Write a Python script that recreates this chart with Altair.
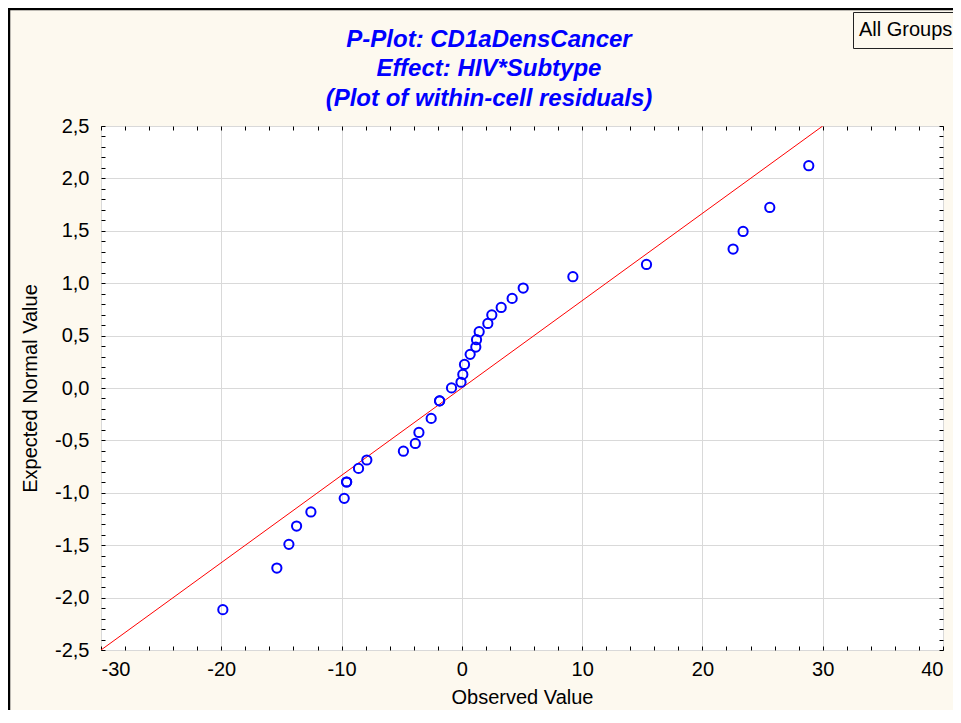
import altair as alt
import pandas as pd

# ---- data ----
observed = [-19.87, -15.38, -14.38, -13.74, -12.55, -9.78, -9.58, -9.58, -8.59, -7.90,
            -4.86, -3.87, -3.57, -2.55, -1.85, -1.85, -0.86, -0.07, 0.08, 0.22,
            0.69, 1.16, 1.22, 1.44, 2.16, 2.49, 3.27, 4.18, 5.10, 9.23,
            15.35, 22.55, 23.38, 25.60, 28.84]
expected = [-2.115, -1.718, -1.492, -1.317, -1.183, -1.053, -0.897, -0.897, -0.767, -0.687,
            -0.603, -0.529, -0.424, -0.290, -0.123, -0.123, 0.001, 0.055, 0.130, 0.225,
            0.321, 0.391, 0.461, 0.537, 0.616, 0.697, 0.769, 0.855, 0.954, 1.062,
            1.179, 1.326, 1.494, 1.723, 2.121]
line_x = [-30, 30]
line_y = [-2.5, 2.5]
x_ticks = [-30, -20, -10, 0, 10, 20, 30, 40]
y_ticks = [-2.5, -2.0, -1.5, -1.0, -0.5, 0.0, 0.5, 1.0, 1.5, 2.0, 2.5]
x_minor = list(range(-30, 41, 2))
y_minor = [round(-2.5 + 0.1 * i, 1) for i in range(51)]
title_lines = ["P-Plot: CD1aDensCancer", "Effect: HIV*Subtype", "(Plot of within-cell residuals)"]
group_name = "All Groups"
x_title = "Observed Value"
y_title = "Expected Normal Value"

FONT = "Arial, Liberation Sans, sans-serif"
BG = "#fdf9ef"

pts = pd.DataFrame({"obs": observed, "exp": expected, "group": group_name})
line = pd.DataFrame({"obs": line_x, "exp": line_y})

xs = alt.Scale(domain=[-30, 40], nice=False, zero=False)
ys = alt.Scale(domain=[-2.5, 2.5], nice=False, zero=False)

main_x_axis = alt.Axis(
    values=x_ticks, title=x_title, labelExpr="toString(datum.value)",
    grid=True, gridColor="#d9d9d9", ticks=False, tickSize=0, domain=False,
    labelFontSize=20, labelFont=FONT, labelColor="black", labelPadding=9,
    titleFontSize=20, titleFont=FONT, titleFontWeight="normal", titleColor="black",
    titlePadding=8,
)
main_y_axis = alt.Axis(
    values=y_ticks, title=y_title,
    labelExpr="(datum.value < 0 ? '-' : '') + replace(format(abs(datum.value), '.1f'), '.', ',')",
    grid=True, gridColor="#d9d9d9", ticks=False, tickSize=0, domain=False,
    labelFontSize=20, labelFont=FONT, labelColor="black", labelPadding=12,
    titleFontSize=20, titleFont=FONT, titleFontWeight="normal", titleColor="black",
    titlePadding=14,
)


def tick_axis(orient, vals):
    return alt.Axis(orient=orient, values=vals, labels=False, grid=False, domain=False,
                    ticks=True, tickSize=4, offset=-4, tickColor="black", tickWidth=1,
                    title=None)


frame = alt.Chart(pd.DataFrame({"a": [0]})).mark_rect(
    fillOpacity=0, stroke="black", strokeWidth=2.5
).encode(x=alt.value(-92), x2=alt.value(900), y=alt.value(-117), y2=alt.value(640))

redline = alt.Chart(line).mark_line(color="#ff0000", strokeWidth=1, clip=True).encode(
    x=alt.X("obs:Q", scale=xs, axis=None),
    y=alt.Y("exp:Q", scale=ys, axis=None),
)

points = alt.Chart(pts).mark_point(shape="circle", filled=False, size=85, strokeWidth=2, opacity=1).encode(
    x=alt.X("obs:Q", scale=xs, axis=main_x_axis),
    y=alt.Y("exp:Q", scale=ys, axis=main_y_axis),
    color=alt.Color("group:N", scale=alt.Scale(range=["#0000ff"]), legend=alt.Legend(
        title=None, orient="none", legendX=752, legendY=-114,
        strokeColor="#222222", fillColor=BG, padding=8, cornerRadius=0,
        labelFontSize=20, labelFont=FONT, labelColor="black",
        symbolSize=1, symbolOpacity=0, symbolStrokeWidth=0,
        labelOffset={"expr": "-22"},
    )),
)

minor_bl = alt.Chart(pts).mark_point(opacity=0).encode(
    x=alt.X("obs:Q", scale=xs, axis=tick_axis("bottom", x_minor)),
    y=alt.Y("exp:Q", scale=ys, axis=tick_axis("left", y_minor)),
)
minor_tr = alt.Chart(pts).mark_point(opacity=0).encode(
    x=alt.X("obs:Q", scale=xs, axis=tick_axis("top", x_minor)),
    y=alt.Y("exp:Q", scale=ys, axis=tick_axis("right", y_minor)),
)

chart = alt.layer(frame, redline, points, minor_bl, minor_tr).resolve_axis(
    x="independent", y="independent"
).properties(
    width=842, height=524,
    title=alt.Title(title_lines, font=FONT, fontSize=24, fontStyle="italic", fontWeight="bold",
                    color="#0000ff", anchor="middle", frame="group", dx=-33, offset=0, dy=103,
                    lineHeight=29.5),
    autosize=alt.AutoSizeParams(type="none"),
    padding={"left": 93, "top": 118, "right": 10, "bottom": 60},
    background=BG,
).configure_view(stroke="black", strokeWidth=1, fill="white")

chart.save("out.html", embed_options={"renderer": "svg", "actions": False})
